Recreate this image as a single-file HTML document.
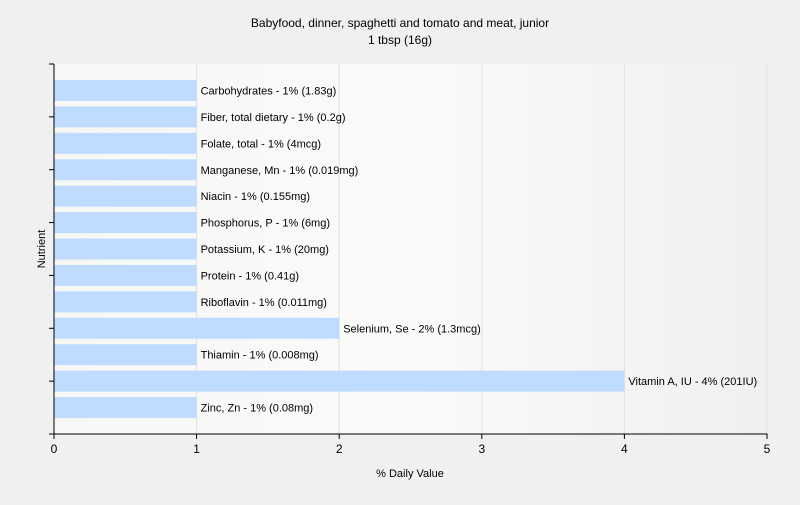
<!DOCTYPE html>
<html><head><meta charset="utf-8"><style>
body{margin:0;background:#f0f0f0;font-family:"Liberation Sans",sans-serif}
svg text{font-family:"Liberation Sans",sans-serif;fill:#000}
</style></head><body>
<svg id="chart" width="800" height="500" xmlns="http://www.w3.org/2000/svg">
<defs><linearGradient id="bg" x1="0" x2="1" y1="0" y2="0"><stop offset="0" stop-color="#f7f7f5"/><stop offset="0.5" stop-color="#fafafa"/><stop offset="1" stop-color="#f0f0f0"/></linearGradient></defs>
<rect x="0" y="0" width="800" height="500" fill="#f0f0f0"/>
<rect x="54" y="64" width="713" height="370" fill="url(#bg)"/>
<text x="400" y="27" text-anchor="middle" font-size="12">Babyfood, dinner, spaghetti and tomato and meat, junior</text>
<text x="400" y="44" text-anchor="middle" font-size="12">1 tbsp (16g)</text>
<text x="410" y="477" text-anchor="middle" font-size="11">% Daily Value</text>
<text transform="translate(45,249) rotate(-90)" text-anchor="middle" font-size="11">Nutrient</text>
<g id="grid"></g><g id="bars"></g><g id="axes"></g>
</svg>
<script>
const categories=["Carbohydrates","Fiber, total dietary","Folate, total","Manganese, Mn","Niacin","Phosphorus, P","Potassium, K","Protein","Riboflavin","Selenium, Se","Thiamin","Vitamin A, IU","Zinc, Zn"];
const values=[1,1,1,1,1,1,1,1,1,2,1,4,1];
const amounts=["1.83g","0.2g","4mcg","0.019mg","0.155mg","6mg","20mg","0.41g","0.011mg","1.3mcg","0.008mg","201IU","0.08mg"];
const xTicks=[0,1,2,3,4,5];
const NS="http://www.w3.org/2000/svg";
const x0=54,x1=767,yTop=64,yBot=434;
const xScale=v=>x0+(v/5)*(x1-x0);
const step=26.42,firstC=90.5;
const yScale=i=>firstC+i*step;
function mk(t,a,p){const e=document.createElementNS(NS,t);for(const k in a)e.setAttribute(k,a[k]);p.appendChild(e);return e;}
const grid=document.getElementById('grid'),bars=document.getElementById('bars'),axes=document.getElementById('axes');
xTicks.forEach(t=>{if(t===0)return;const l=mk('line',{x1:xScale(t),x2:xScale(t),y1:yTop,y2:yBot,stroke:'#e0e0e0'},grid);

});
categories.forEach((c,i)=>{const y=yScale(i);
const r=mk('rect',{x:x0,y:y-10.5,width:xScale(values[i])-x0,height:21,fill:'#bfdbff'},bars);


const tx=mk('text',{x:xScale(values[i])+4,y:y+4,'font-size':'11'},bars);
tx.textContent=c+' - '+values[i]+'% ('+amounts[i]+')';

});
const ya=mk('line',{x1:x0,x2:x0,y1:yTop,y2:yBot+1,stroke:'#000'},axes);


const xa=mk('line',{x1:x0-0.5,x2:x1+0.5,y1:yBot,y2:yBot,stroke:'#000'},axes);


for(let k=0;k<=7;k++){const y=yTop+k*(yBot-yTop)/7;const t=mk('line',{x1:x0-5,x2:x0,y1:y,y2:y,stroke:'#000'},axes);

}
xTicks.forEach(t=>{const x=xScale(t);const l=mk('line',{x1:x,x2:x,y1:yBot,y2:yBot+5,stroke:'#000'},axes);


const tx=mk('text',{x:x,y:yBot+19,'text-anchor':'middle','font-size':'12'},axes);tx.textContent=t;

});
</script>
</body></html>
